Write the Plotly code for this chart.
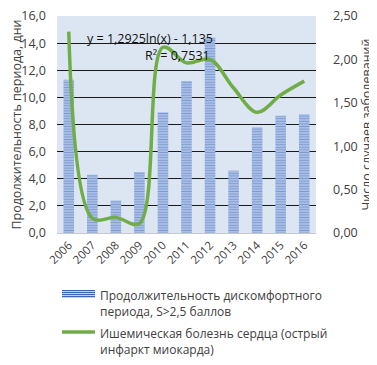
import plotly.graph_objects as go

years = ["2006", "2007", "2008", "2009", "2010", "2011", "2012", "2013", "2014", "2015", "2016"]
duration_days = [11.3, 4.3, 2.4, 4.5, 8.9, 11.2, 14.4, 4.6, 7.8, 8.65, 8.75]
ihd_cases = [2.32, 0.17, 0.18, 0.11, 2.14, 1.96, 2.0, 1.67, 1.39, 1.59, 1.75]

bar_name = "Продолжительность дискомфортного<br>периода, S>2,5 баллов"
line_name = "Ишемическая болезнь сердца (острый<br>инфаркт миокарда)"
left_title = "Продолжительность периода, дни"
right_title = "Число случаев заболеваний"
trend_eq = "y = 1,2925ln(x) - 1,135"
trend_r2 = "R² = 0,7531"

FONT = "Open Sans"
TXT = "#404040"

# page body has an 8px default margin; figure sits at (8, 8)
OFF = 8
W, H = 377 - OFF, 365 - OFF
PL, PR, PT, PB = 57, 316, 16, 233  # plot area in window pixels

fig = go.Figure()
fig.add_trace(go.Bar(
    x=years, y=duration_days, name=bar_name, yaxis="y",
    marker=dict(color="#c3d3ef", line=dict(width=0),
                pattern=dict(shape="-", fgcolor="#3a66b8", bgcolor="#c3d3ef",
                             size=2.6, solidity=0.6)),
    showlegend=False,
))
fig.add_trace(go.Scatter(
    x=years, y=ihd_cases, name=line_name, yaxis="y2", mode="lines",
    line=dict(color="#70ad47", width=3.5, shape="spline", smoothing=1.0),
    showlegend=False,
))

fig.update_layout(
    width=W, height=H,
    margin=dict(l=PL - OFF, r=W - (PR - OFF), t=PT - OFF, b=H - (PB - OFF), pad=0),
    paper_bgcolor="white", plot_bgcolor="#dce6f2",
    separators=", ",
    font=dict(family=FONT, size=12, color=TXT),
    bargap=0.55,
    xaxis=dict(type="category", tickangle=-45, showgrid=False, ticks="",
               showline=True, linecolor="#c8c8c8", linewidth=1, automargin=False,
               tickfont=dict(size=11.5, color=TXT)),
    yaxis=dict(range=[0, 16], dtick=2, tickformat=".1f", automargin=False,
               showgrid=True, gridcolor="#1a1a1a", gridwidth=1.3,
               ticklabeloverflow="allow", ticklabelstandoff=10,
               zeroline=False, ticks="", tickfont=dict(size=12.5, color=TXT),
               title=dict(text=left_title, font=dict(size=12.5, color=TXT), standoff=2)),
    yaxis2=dict(range=[0, 2.5], dtick=0.5, tickformat=".2f", overlaying="y",
                side="right", showgrid=False, zeroline=False, ticks="", automargin=False,
                ticklabeloverflow="allow", ticklabelstandoff=16,
                tickfont=dict(size=12.5, color=TXT),
                title=dict(text=right_title, font=dict(size=12.5, color=TXT), standoff=5)),
)

def py(y):
    return 1 - (y - PT) / (PB - PT)
def px(x):
    return (x - PL) / (PR - PL)

# trendline label
fig.add_annotation(xref="paper", yref="paper", x=px(150), y=py(38), text=trend_eq,
                   showarrow=False, yanchor="middle",
                   font=dict(size=12.5, color="#111111", family=FONT))
fig.add_annotation(xref="paper", yref="paper", x=px(143), y=py(55), text=trend_r2,
                   showarrow=False, yanchor="middle",
                   font=dict(size=12.5, color="#111111", family=FONT))

# custom legend
fig.add_shape(type="rect", xref="paper", yref="paper",
              x0=px(62), x1=px(95), y0=py(290), y1=py(298),
              fillcolor="#c3d3ef", line=dict(width=0))
for yy in [290.5, 292.5, 294.5, 296.5]:
    fig.add_shape(type="line", xref="paper", yref="paper",
                  x0=px(62), x1=px(95), y0=py(yy), y1=py(yy),
                  line=dict(color="#3a66b8", width=1.2))
fig.add_shape(type="line", xref="paper", yref="paper",
              x0=px(62), x1=px(95), y0=py(332), y1=py(332),
              line=dict(color="#70ad47", width=3.5))
fig.add_annotation(xref="paper", yref="paper", x=px(98), y=py(285), text=bar_name,
                   showarrow=False, xanchor="left", yanchor="top", align="left",
                   font=dict(size=12, color=TXT))
fig.add_annotation(xref="paper", yref="paper", x=px(98), y=py(323), text=line_name,
                   showarrow=False, xanchor="left", yanchor="top", align="left",
                   font=dict(size=12, color=TXT))

fig.write_html("out.html")
